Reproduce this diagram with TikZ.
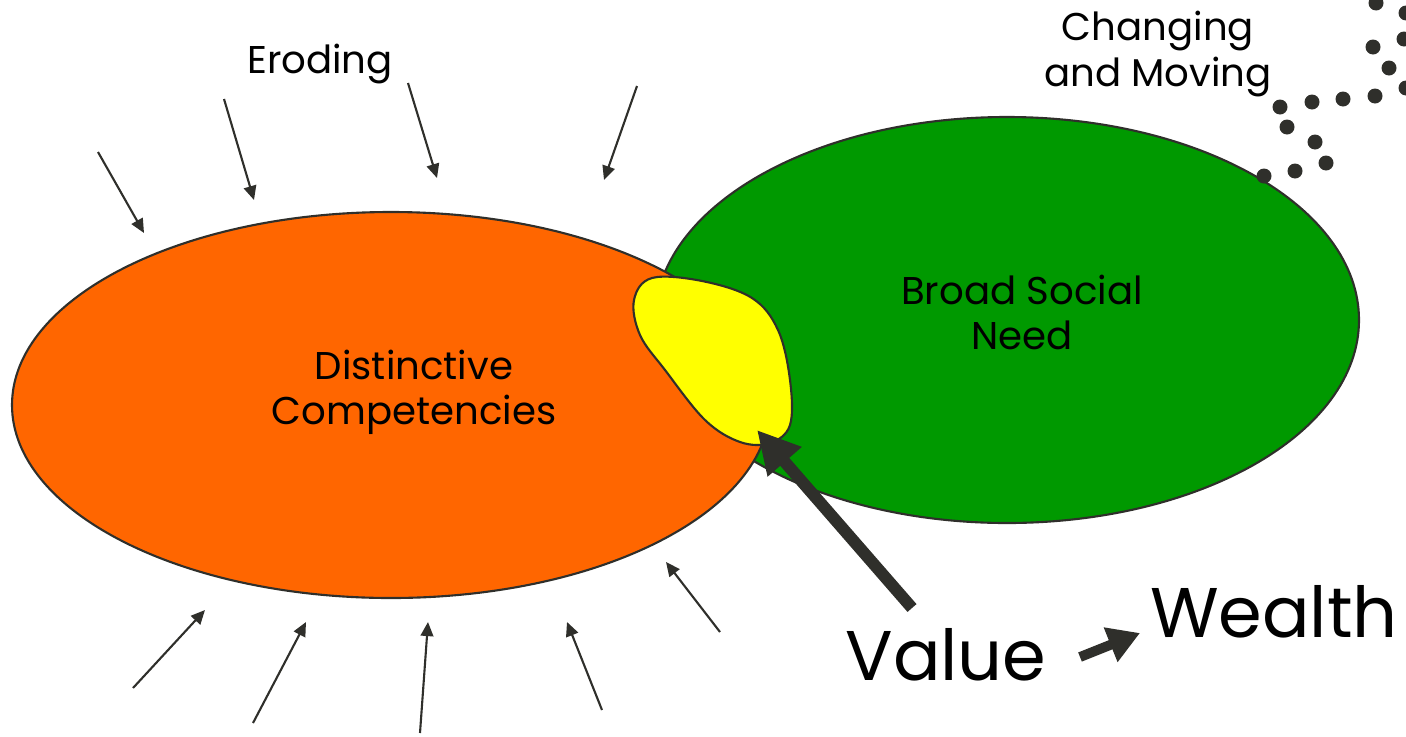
\documentclass[tikz,border=0pt]{standalone}
\usepackage{fontspec}
\setmainfont{Poppins}
\usetikzlibrary{arrows.meta}

\definecolor{compOrange}{HTML}{FF6600}
\definecolor{needGreen}{HTML}{009900}
\definecolor{valueYellow}{HTML}{FFFF00}
\definecolor{inkGray}{HTML}{2F2F2B}

\begin{document}
\begin{tikzpicture}[x=0.01cm, y=-0.01cm, >={Triangle[length=4pt,width=3.6pt]},
  labeltext/.style={font=\fontsize{11}{12.8}\selectfont, align=center},
  bigtext/.style={font=\fontsize{20}{24}\selectfont},
  blob/.style={draw=inkGray, line width=0.6pt},
  erodearrow/.style={->, inkGray, line width=0.6pt},
  pusharrow/.style={-{Triangle[length=12pt,width=12pt]}, inkGray, line width=3.4pt}]
  \useasboundingbox (0,0) rectangle (1406,736);
  \clip (0,0) rectangle (1406,736);
  % need and competencies
  \draw[blob, fill=needGreen] (1007,320) ellipse (352 and 203);
  \draw[blob, fill=compOrange] (391,405) ellipse (379 and 193);
  \draw[blob, fill=valueYellow] plot[smooth cycle, tension=0.6] coordinates
    {(634,300) (652,278) (702,281) (752,298) (778,330) (790,380) (790,425)
     (770,443) (740,442) (705,420) (665,370) (640,335)};
  \node[labeltext] (comp) at (414,392) {Distinctive\\Competencies};
  \node[labeltext] (need) at (1022,312) {Broad Social\\Need};
  % eroding from outside
  \node[labeltext] (erode) at (320,64) {Eroding};
  \foreach \xa/\ya/\xb/\yb in {98/152/144/233, 224/99/254/200, 408/83/437/178,
      637/86/604/180, 133/688/205/610, 253/723/306/622, 420/733/428/622,
      602/710/567/622, 720/632/666/562}
    \draw[erodearrow] (\xa,\ya) -- (\xb,\yb);
  % changing and moving
  \node[labeltext] (move) at (1158,54) {Changing\\and Moving};
  \foreach \x/\y in {1376/3, 1406/13, 1373/47, 1404/39, 1389/68, 1406/88,
      1375/96, 1343/99, 1312/102, 1280/107, 1287/127, 1315/142, 1326/163,
      1295/171, 1264/176}
    \fill[inkGray] (\x,\y) circle (7.5);
  % value and wealth
  \node[bigtext] (value) at (946,655) {Value};
  \node[bigtext] (wealth) at (1274,612) {Wealth};
  \coordinate (valuetail) at (912,608);
  \coordinate (valuetip) at (757,430);
  \draw[pusharrow] (valuetail) -- (valuetip);
  \coordinate (wealthtail) at (1080,657);
  \coordinate (wealthtip) at (1140,633);
  \draw[pusharrow, line width=2.8pt, -{Triangle[length=9pt,width=10pt]}] (wealthtail) -- (wealthtip);
\end{tikzpicture}
\end{document}
